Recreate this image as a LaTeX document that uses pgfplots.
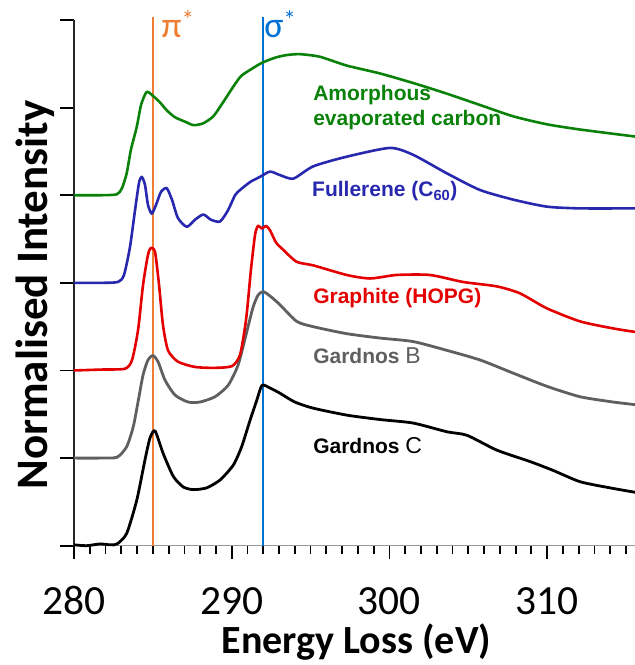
\documentclass[border=0pt]{standalone}
\usepackage{fontspec}
\setmainfont{Carlito}
\newfontfamily\lib{Liberation Sans}
\usepackage{pgfplots}
\pgfplotsset{compat=1.18}
\definecolor{cgreen}{RGB}{10,130,10}
\definecolor{cblue}{RGB}{40,40,175}
\definecolor{cred}{RGB}{228,0,0}
\definecolor{cgrey}{RGB}{95,95,95}
\definecolor{corange}{RGB}{237,125,49}
\definecolor{cline}{RGB}{0,114,212}
\begin{document}
\begin{tikzpicture}
\begin{axis}[
  at={(0,0)}, anchor=south west,
  scale only axis, width=561pt, height=525.7pt,
  xmin=280, xmax=315.57, ymin=0, ymax=6,
  axis x line=bottom, axis y line=left,
  axis line style={-, line width=1.5pt},
  x axis line style={draw=black!40},
  y axis line style={draw=black!85},
  xtick={280,290,300,310},
  minor xtick={281,282,283,284,285,286,287,288,289,291,292,293,294,295,296,297,298,299,301,302,303,304,305,306,307,308,309,311,312,313,314,315},
  ytick={0,1,2,3,4,5,6}, yticklabels={},
  xtick align=outside, ytick align=outside,
  major tick length=13.5pt, minor tick length=8.5pt,
  major tick style={draw=black, line width=1.8pt},
  minor tick style={draw=black, line width=1.8pt},
  /pgf/number format/assume math mode=true,
  /pgf/number format/1000 sep={},
  xticklabel style={font=\fontsize{41.5}{41.5}\selectfont, anchor=base, inner sep=0pt, yshift=-55pt},
  clip=false,
]
\addplot[corange, line width=1.8pt] coordinates {(285,0) (285,6.03)};
\addplot[cline, line width=1.8pt] coordinates {(292,0) (292,6.03)};

% Gardnos C
\addplot[black, line width=2.8pt, smooth, tension=0.4, line join=round] coordinates {
(280.00,0.01) (280.8,0.00) (281.65,0.02) (282.3,0.01) (282.73,0.02) (283.34,0.14) (283.98,0.52) (284.50,0.98) (284.82,1.23) (285.14,1.31) (285.66,1.05) (286.30,0.79) (286.93,0.67) (287.57,0.64) (288.41,0.66) (289.26,0.75) (290.10,0.92) (290.63,1.13) (291.16,1.43) (291.59,1.66) (291.92,1.83) (292.43,1.80) (293.06,1.74) (294.0,1.64) (295.16,1.57) (297.31,1.49) (299.40,1.44) (301.50,1.40) (303.65,1.30) (304.92,1.26) (306.82,1.09) (308.92,0.96) (310.37,0.86) (312.09,0.73) (313.99,0.66) (315.57,0.61)};

% Gardnos B
\addplot[cgrey, line width=2.8pt, smooth, tension=0.4, line join=round] coordinates {
(280.00,1.00) (281.65,1.00) (282.73,1.01) (283.34,1.13) (283.76,1.36) (284.08,1.66) (284.38,1.95) (284.69,2.12) (285.01,2.17) (285.33,2.10) (285.77,1.89) (286.40,1.72) (287.23,1.64) (287.99,1.64) (288.94,1.70) (289.77,1.83) (290.40,2.06) (290.91,2.41) (291.35,2.72) (291.67,2.86) (291.99,2.90) (292.43,2.85) (293.06,2.75) (294.12,2.56) (295.16,2.50) (297.29,2.42) (299.40,2.37) (301.50,2.33) (303.63,2.23) (305.74,2.12) (307.84,1.97) (309.97,1.82) (312.09,1.70) (314.18,1.64) (315.57,1.61)};

% Graphite
\addplot[cred, line width=2.6pt, smooth, tension=0.4, line join=round] coordinates {
(280.00,2.00) (281.65,2.01) (283.23,2.02) (283.68,2.12) (284.06,2.46) (284.38,2.98) (284.69,3.32) (284.88,3.40) (285.14,3.35) (285.39,2.98) (285.64,2.52) (285.96,2.23) (286.59,2.10) (287.67,2.04) (288.94,2.03) (290.02,2.05) (290.53,2.18) (290.91,2.58) (291.22,3.15) (291.48,3.55) (291.67,3.65) (291.92,3.62) (292.17,3.65) (292.43,3.60) (292.81,3.46) (293.25,3.38) (294.12,3.24) (295.16,3.20) (297.29,3.09) (298.77,3.05) (300.46,3.09) (302.57,3.09) (304.67,3.01) (306.80,2.96) (308.28,2.88) (309.97,2.71) (312.09,2.56) (314.18,2.48) (315.57,2.44)};

% Fullerene
\addplot[cblue, line width=2.6pt, smooth, tension=0.4, line join=round] coordinates {
(280.00,3.00) (281.65,3.00) (282.79,3.01) (283.17,3.09) (283.55,3.41) (283.87,3.83) (284.12,4.14) (284.29,4.21) (284.50,4.12) (284.69,3.89) (284.93,3.79) (285.20,3.89) (285.52,4.04) (285.88,4.08) (286.21,3.95) (286.59,3.74) (287.15,3.64) (287.67,3.72) (288.20,3.78) (288.69,3.72) (289.26,3.70) (289.77,3.83) (290.21,4.00) (290.53,4.06) (291.16,4.15) (291.79,4.21) (292.43,4.27) (293.06,4.23) (293.91,4.19) (295.17,4.33) (297.29,4.44) (300.04,4.54) (301.52,4.46) (303.64,4.25) (305.74,4.06) (307.85,3.95) (309.97,3.87) (312.09,3.85) (315.57,3.85)};

% Amorphous carbon
\addplot[cgreen, line width=2.6pt, smooth, tension=0.4, line join=round] coordinates {
(280.00,4.00) (281.65,4.00) (282.71,4.01) (283.04,4.08) (283.34,4.25) (283.61,4.52) (283.98,4.78) (284.25,5.03) (284.61,5.18) (285.03,5.13) (285.45,5.06) (285.88,4.97) (286.40,4.89) (287.04,4.84) (287.57,4.80) (288.18,4.82) (288.83,4.90) (289.45,5.06) (290.10,5.24) (290.59,5.36) (291.16,5.43) (291.90,5.51) (292.75,5.57) (293.49,5.60) (294.33,5.61) (295.60,5.58) (297.29,5.48) (299.40,5.39) (301.52,5.28) (303.63,5.16) (305.74,5.03) (307.86,4.90) (309.97,4.81) (312.09,4.75) (315.57,4.67)};

\node[anchor=base west, inner sep=0pt, text=corange, font=\fontsize{36}{36}\selectfont] at (axis cs:285.55,5.80) {π\textsuperscript{*}};
\node[anchor=base west, inner sep=0pt, text=cline, font=\fontsize{36}{36}\selectfont] at (axis cs:292.05,5.80) {σ\textsuperscript{*}};

\node[anchor=base west, inner sep=0pt, text=cgreen, font=\lib\bfseries\fontsize{21}{21}\selectfont] at (axis cs:295.16,5.08) {Amorphous};
\node[anchor=base west, inner sep=0pt, text=cgreen, font=\lib\bfseries\fontsize{21}{21}\selectfont] at (axis cs:295.16,4.80) {evaporated carbon};
\node[anchor=base west, inner sep=0pt, text=cblue, font=\lib\bfseries\fontsize{21}{21}\selectfont] at (axis cs:295.09,3.98) {Fullerene (C\textsubscript{60})};
\node[anchor=base west, inner sep=0pt, text=cred, font=\lib\bfseries\fontsize{21}{21}\selectfont] at (axis cs:295.16,2.77) {Graphite (HOPG)};
\node[anchor=base west, inner sep=0pt, text=cgrey, font=\lib\bfseries\fontsize{21}{21}\selectfont] at (axis cs:295.16,2.08) {Gardnos {\mdseries\fontsize{23}{23}\selectfont B}};
\node[anchor=base west, inner sep=0pt, text=black, font=\lib\bfseries\fontsize{21}{21}\selectfont] at (axis cs:295.16,1.05) {Gardnos {\mdseries\fontsize{23}{23}\selectfont C}};
\end{axis}
\node[rotate=90, anchor=base, inner sep=0pt, font=\bfseries\fontsize{45}{45}\selectfont] at (-26pt,250.7pt) {Normalised Intensity};
\node[anchor=base, inner sep=0pt, font=\bfseries\fontsize{40}{40}\selectfont] at (282.5pt,-107.5pt) {Energy Loss (eV)};
\pgfresetboundingbox
\useasboundingbox (-74pt,-119.3pt) rectangle (561pt,545.7pt);
\end{tikzpicture}
\end{document}
